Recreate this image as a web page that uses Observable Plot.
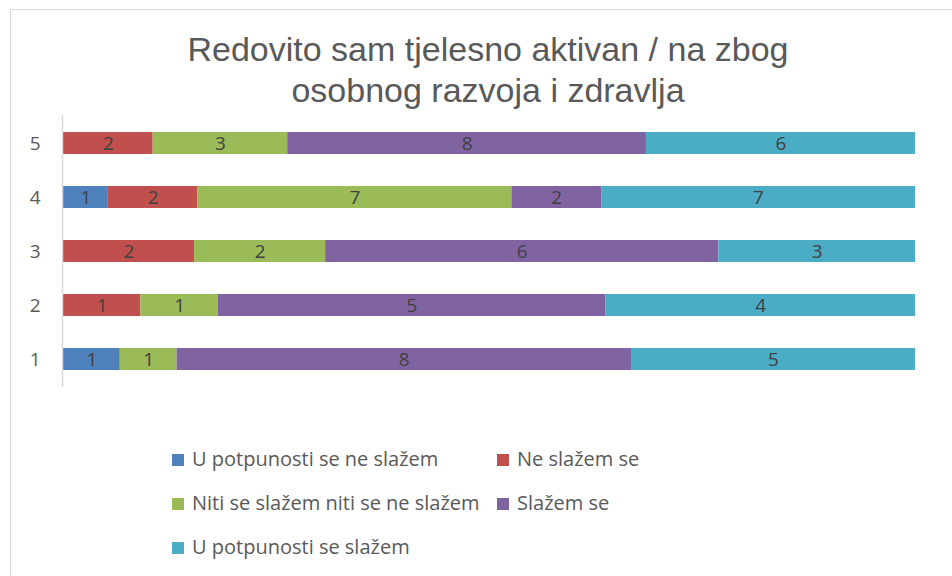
<!DOCTYPE html>
<html>
<head>
<meta charset="utf-8">
<script src="https://cdn.jsdelivr.net/npm/d3@7"></script>
<script src="https://cdn.jsdelivr.net/npm/@observablehq/plot@0.6"></script>
<style>
  body { margin: 0; background: #fff; }
  #wrap { position: relative; width: 952px; height: 576px; overflow: hidden; background: #fff; }
  #frame { position: absolute; left: 10px; top: 9px; width: 960px; height: 600px; border-left: 1px solid #d9d9d9; border-top: 1px solid #d9d9d9; }
  #title { position: absolute; left: 0; top: 29px; width: 976px; text-align: center; font-family: "Liberation Sans", Arial, sans-serif; font-size: 34px; line-height: 41px; color: #595959; }
  #chart { position: absolute; left: 0; top: 100px; }
  .leg { position: absolute; font-family: "Open Sans", sans-serif; font-size: 20px; line-height: 24px; color: #595959; white-space: nowrap; }
  .leg span.sw { display: inline-block; width: 12px; height: 12px; margin-right: 8px; vertical-align: 0px; }
</style>
</head>
<body>
<div id="wrap">
  <div id="frame"></div>
  <div id="title">Redovito sam tjelesno aktivan / na zbog<br>osobnog razvoja i zdravlja</div>
  <div id="chart"></div>
  <div id="legend"></div>
</div>
<script>
const categories = ["1", "2", "3", "4", "5"];
const series = ["U potpunosti se ne slažem", "Ne slažem se", "Niti se slažem niti se ne slažem", "Slažem se", "U potpunosti se slažem"];
const colors = ["#4F81BD", "#C0504D", "#9BBB59", "#8064A2", "#4BACC6"];
// values per series, indexed by category 1..5
const values = {
  "U potpunosti se ne slažem":          [1, 0, 0, 1, 0],
  "Ne slažem se":                       [0, 1, 2, 2, 2],
  "Niti se slažem niti se ne slažem":   [1, 1, 2, 7, 3],
  "Slažem se":                          [8, 5, 6, 2, 8],
  "U potpunosti se slažem":             [5, 4, 3, 7, 6]
};

const data = [];
for (const s of series) {
  categories.forEach((c, i) => {
    const v = values[s][i];
    if (v > 0) data.push({cat: c, series: s, value: v});
  });
}

const stackOpts = {x: "value", y: "cat", z: "series", offset: "normalize", order: series};

const chart = Plot.plot({
  width: 952,
  height: 300,
  marginLeft: 63,
  marginRight: 37,
  marginTop: 15,
  marginBottom: 13,
  style: {fontFamily: "Open Sans, sans-serif", fontSize: "19px", color: "#595959", background: "transparent"},
  x: {axis: null, domain: [0, 1]},
  y: {domain: categories.slice().reverse(), paddingInner: 0.6, paddingOuter: 0.3, label: null, tickSize: 0, tickPadding: 23},
  color: {domain: series, range: colors},
  marks: [
    Plot.barX(data, Plot.stackX({...stackOpts, fill: "series"})),
    Plot.text(data, Plot.stackX({...stackOpts, text: d => String(d.value), fill: "#404040", fontSize: 19})),
    Plot.ruleX([0], {stroke: "#d9d9d9", strokeWidth: 1.5, dx: -1})
  ]
});
document.getElementById("chart").appendChild(chart);

const legendPos = [
  {x: 172, y: 447}, {x: 497, y: 447},
  {x: 172, y: 491}, {x: 497, y: 491},
  {x: 172, y: 535}
];
const legend = document.getElementById("legend");
series.forEach((s, i) => {
  const d = document.createElement("div");
  d.className = "leg";
  d.style.left = legendPos[i].x + "px";
  d.style.top = legendPos[i].y + "px";
  d.innerHTML = `<span class="sw" style="background:${colors[i]}"></span>${s}`;
  legend.appendChild(d);
});
</script>
</body>
</html>
